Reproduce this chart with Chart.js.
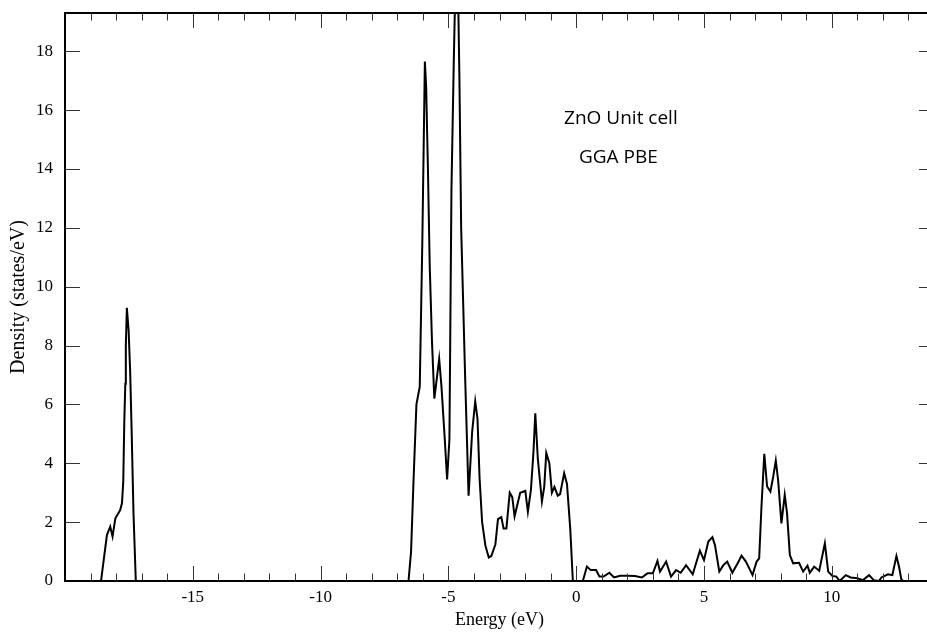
<!DOCTYPE html>
<html>
<head>
<meta charset="utf-8">
<script src="https://cdn.jsdelivr.net/npm/chart.js@4.4.1/dist/chart.umd.min.js"></script>
<style>
  html, body { margin: 0; padding: 0; background: #fff; overflow: hidden; }
  #wrap { width: 940px; height: 632px; }
</style>
</head>
<body>
<div id="wrap"><canvas id="dos" width="940" height="632"></canvas></div>
<script>
// total density of states
const energy = [
  -20, -18.59, -18.36, -18.23, -18.14, -18.03, -17.84, -17.77, -17.72, -17.68, -17.64, -17.62,
  -17.58, -17.51, -17.45, -17.39, -17.32, -17.23,
  -6.56, -6.46, -6.36, -6.25, -6.12, -6.02, -5.92, -5.87, -5.8, -5.73, -5.64, -5.55, -5.45,
  -5.36, -5.27, -5.14, -5.05, -4.96, -4.88, -4.79, -4.72, -4.63, -4.57, -4.5, -4.34, -4.21,
  -4.07, -3.95, -3.86, -3.78, -3.68, -3.55, -3.42, -3.32, -3.16, -3.06, -2.93, -2.84, -2.73,
  -2.6, -2.5, -2.41, -2.19, -1.99, -1.89, -1.77, -1.67, -1.6, -1.5, -1.34, -1.25, -1.17,
  -1.05, -0.95, -0.85, -0.72, -0.63, -0.47, -0.36, -0.23, -0.13,
  0.26, 0.42, 0.57, 0.78, 0.91, 1.07, 1.3, 1.48, 1.72, 1.98, 2.3, 2.57, 2.79, 3.0, 3.18, 3.28,
  3.52, 3.71, 3.91, 4.09, 4.3, 4.56, 4.84, 5.0, 5.17, 5.33, 5.43, 5.6, 5.76, 5.91, 6.11, 6.28,
  6.47, 6.64, 6.9, 7.06, 7.16, 7.25, 7.36, 7.47, 7.6, 7.71, 7.81, 7.9, 8.03, 8.16, 8.25, 8.36,
  8.49, 8.72, 8.88, 9.05, 9.14, 9.31, 9.51, 9.73, 9.86, 10.03, 10.18, 10.31, 10.55, 10.74,
  11.0, 11.22, 11.46, 11.64, 11.85, 11.94, 12.2, 12.37, 12.53, 12.63, 12.72, 12.79, 14
];
const density = [
  0, 0, 1.56, 1.85, 1.51, 2.13, 2.41, 2.65, 3.4, 5.4, 6.7, 8.0,
  9.28, 8.5, 7.1, 5.0, 2.3, 0,
  0, 1.0, 3.5, 6.0, 6.6, 11.5, 17.65, 16.8, 14.0, 10.7, 8.1, 6.2, 6.9,
  7.55, 6.6, 4.8, 3.45, 4.8, 13.3, 17.6, 20.5, 20.5, 17.2, 12.0, 6.8, 2.9,
  5.07, 6.1, 5.5, 3.5, 2.0, 1.2, 0.8, 0.85, 1.25, 2.1, 2.17, 1.78, 1.78,
  3.0, 2.85, 2.2, 3.0, 3.06, 2.35, 3.1, 4.4, 5.7, 4.15, 2.7, 3.2, 4.35,
  4.0, 3.0, 3.2, 2.9, 2.95, 3.66, 3.3, 1.75, 0,
  0, 0.49, 0.37, 0.37, 0.15, 0.15, 0.28, 0.12, 0.18, 0.18, 0.17, 0.12, 0.26, 0.26, 0.68, 0.32,
  0.66, 0.15, 0.37, 0.28, 0.54, 0.23, 1.03, 0.71, 1.34, 1.49, 1.22, 0.32, 0.54, 0.66, 0.28, 0.54,
  0.86, 0.66, 0.2, 0.66, 0.77, 2.53, 4.32, 3.21, 3.04, 3.55, 4.09, 3.44, 1.96, 2.93, 2.3, 0.88,
  0.6, 0.62, 0.32, 0.52, 0.28, 0.49, 0.35, 1.28, 0.32, 0.17, 0.15, 0, 0.2, 0.12,
  0.09, 0.03, 0.2, 0.03, 0, 0.12, 0.23, 0.2, 0.85, 0.49, 0.06, 0, 0
];
const xTickLabels = [-15, -10, -5, 0, 5, 10];
const yTickLabels = [0, 2, 4, 6, 8, 10, 12, 14, 16, 18];
const notes = ['ZnO Unit cell', 'GGA PBE'];

const serif = 'Liberation Serif';

// closed frame with inward ticks on all four sides, plus the text note
const frame = {
  id: 'frame',
  afterDraw(chart) {
    const { ctx, chartArea: a, scales: { x, y } } = chart;
    ctx.save();
    ctx.strokeStyle = '#333';
    ctx.lineWidth = 1;
    ctx.beginPath();
    for (let v = Math.ceil(x.min) + 1; v < x.max; v++) {
      const px = Math.round(x.getPixelForValue(v)) + 0.5;
      const len = v % 5 === 0 ? 15 : 7.5;
      ctx.moveTo(px, a.bottom); ctx.lineTo(px, a.bottom - len);
      ctx.moveTo(px, a.top); ctx.lineTo(px, a.top + len);
    }
    yTickLabels.forEach(v => {
      if (v === 0) return;
      const py = Math.round(y.getPixelForValue(v)) + 0.5;
      ctx.moveTo(a.left, py); ctx.lineTo(a.left + 15, py);
      ctx.moveTo(a.right, py); ctx.lineTo(a.right - 15, py);
    });
    ctx.stroke();
    ctx.strokeStyle = '#000';
    ctx.lineWidth = 2;
    ctx.strokeRect(a.left, a.top, a.right - a.left, a.bottom - a.top);

    ctx.fillStyle = '#000';
    ctx.font = '19px "Open Sans"';
    ctx.textAlign = 'center';
    ctx.textBaseline = 'middle';
    ctx.fillText(notes[0], x.getPixelForValue(1.75), y.getPixelForValue(15.72));
    ctx.fillText(notes[1], x.getPixelForValue(1.65), y.getPixelForValue(14.4));
    ctx.restore();
  }
};

new Chart(document.getElementById('dos'), {
  type: 'scatter',
  data: {
    datasets: [{
      data: energy.map((e, i) => ({ x: e, y: density[i] })),
      showLine: true,
      borderColor: '#000',
      borderWidth: 2,
      pointRadius: 0,
      tension: 0
    }]
  },
  options: {
    responsive: false,
    animation: false,
    layout: { padding: { top: 13, right: 6, left: 0, bottom: 0 } },
    plugins: { legend: { display: false }, tooltip: { enabled: false } },
    scales: {
      x: {
        type: 'linear',
        min: -20,
        max: 14,
        grid: { display: false, drawTicks: false },
        border: { display: false },
        ticks: {
          stepSize: 5,
          includeBounds: false,
          autoSkip: false,
          maxRotation: 0,
          padding: 6,
          color: '#000',
          font: { family: serif, size: 17 },
          callback: v => xTickLabels.includes(v) ? String(v) : null
        },
        title: {
          display: true,
          text: 'Energy (eV)',
          color: '#000',
          font: { family: serif, size: 18 },
          padding: { top: 0, bottom: 1 }
        },
        afterFit(s) { s.height = 51; s.paddingLeft = 0; s.paddingRight = 0; }
      },
      y: {
        min: 0,
        max: 19.3,
        grid: { display: false, drawTicks: false },
        border: { display: false },
        ticks: {
          stepSize: 2,
          includeBounds: false,
          padding: 12,
          color: '#000',
          font: { family: serif, size: 17 },
          callback: v => yTickLabels.includes(v) ? String(v) : null
        },
        title: {
          display: true,
          text: 'Density (states/eV)',
          color: '#000',
          font: { family: serif, size: 20 },
          padding: { top: 7, bottom: 0 }
        },
        afterFit(s) { s.width = 65; s.paddingTop = 0; s.paddingBottom = 0; }
      }
    }
  },
  plugins: [frame]
});
</script>
</body>
</html>
